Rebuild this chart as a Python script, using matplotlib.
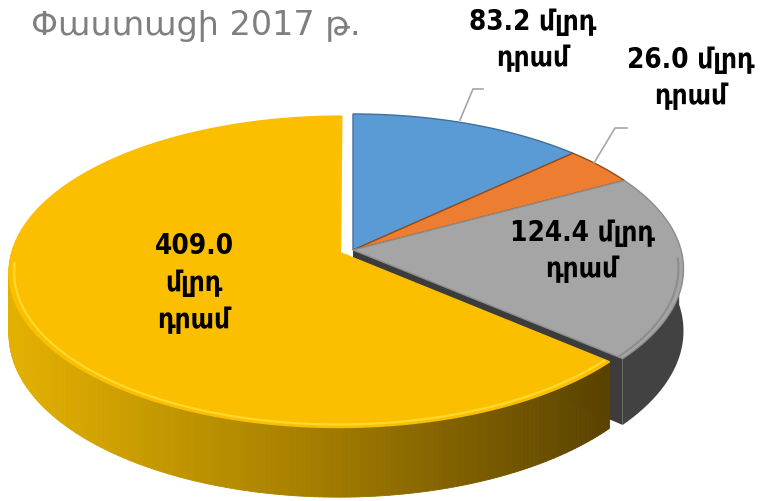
import numpy as np
import matplotlib
matplotlib.use("Agg")
import matplotlib.pyplot as plt
from matplotlib.patches import Polygon
from matplotlib.colors import LinearSegmentedColormap

# data (billion AMD, actual 2017)
values = [83.2, 26.0, 124.4, 409.0]
labels = ["83.2 մլրդ\nդրամ", "26.0 մլրդ\nդրամ", "124.4 մլրդ\nդրամ", "409.0\nմլրդ\nդրամ"]
top_colors = ["#5b9bd5", "#ed7d31", "#a5a5a5", "#fbbf00"]
edge_colors = ["#3f6f9c", "#9c4a14", "#8c8c8c", "#fbbf00"]
side_colors = ["#3a6a96", "#a3541f", "#424242", None]
explode = [0, 0, 0, 0.042]
title = "Փաստացի 2017 թ."

# fake 3d projection
CX, CY = 353, 250
A, B, D, P = 328, 152.7, 61, 0.1225


def proj(X, Y, depth=0.0):
    X = np.asarray(X, float)
    Y = np.asarray(Y, float)
    f = 1.0 / (1.0 + P * Y)
    return CX + A * X * f, CY + (-B * Y + D * depth) * f


fig = plt.figure(figsize=(7.62, 5.01), dpi=100)
ax = fig.add_axes([0, 0, 1, 1])
ax.set_xlim(0, 762)
ax.set_ylim(501, 0)
ax.axis("off")

total = sum(values)
cum = np.concatenate([[0], np.cumsum(values)]) / total
# clockwise from 12 o'clock -> store as ascending (t0, t1) in radians
wedges = []
for i in range(len(values)):
    t1 = 90 - 360 * cum[i]
    t0 = 90 - 360 * cum[i + 1]
    mid = np.radians((t0 + t1) / 2)
    ox, oy = explode[i] * np.cos(mid), explode[i] * np.sin(mid)
    wedges.append((np.radians(t0), np.radians(t1), ox, oy))

yellow_cmap = LinearSegmentedColormap.from_list("ys", ["#e2b000", "#a57e00", "#5a4300"])

# radial cut faces that face the viewer
for i, (t0, t1, ox, oy) in enumerate(wedges):
    for t, sgn in ((t0, -1), (t1, 1)):
        if np.sin(t + sgn * np.pi / 2) < -0.05:
            xs, ys = [], []
            for X, Y, d in ((ox, oy, 0), (ox + np.cos(t), oy + np.sin(t), 0),
                            (ox + np.cos(t), oy + np.sin(t), 1), (ox, oy, 1)):
                x, y = proj(X, Y, d)
                xs.append(x)
                ys.append(y)
            ax.add_patch(Polygon(np.column_stack([xs, ys]), closed=True,
                                 fc="#3c3c3c" if i == 2 else side_colors[i] or "#8a6700",
                                 ec="none"))

# outer side walls (front half only)
for i, (t0, t1, ox, oy) in enumerate(wedges):
    t = np.linspace(t0, t1, 300)
    t = t[np.sin(t) <= 0.04]
    if len(t) < 2:
        continue
    X = ox + np.cos(t)
    Y = oy + np.sin(t)
    xt, yt = proj(X, Y, 0)
    xb, yb = proj(X, Y, 1)
    if side_colors[i] is None:
        for k in range(len(t) - 1):
            c = yellow_cmap(np.clip((xt[k] - 15) / 590, 0, 1))
            quad = [(xt[k], yt[k]), (xt[k + 1], yt[k + 1]),
                    (xb[k + 1], yb[k + 1]), (xb[k], yb[k])]
            ax.add_patch(Polygon(quad, closed=True, fc=c, ec=c, lw=0.6))
    else:
        pts = np.vstack([np.column_stack([xt, yt]), np.column_stack([xb, yb])[::-1]])
        ax.add_patch(Polygon(pts, closed=True, fc=side_colors[i], ec="none"))

# top faces
for i, (t0, t1, ox, oy) in enumerate(wedges):
    t = np.linspace(t0, t1, 300)
    X = np.concatenate([[ox], ox + np.cos(t)])
    Y = np.concatenate([[oy], oy + np.sin(t)])
    x, y = proj(X, Y, 0)
    ax.add_patch(Polygon(np.column_stack([x, y]), closed=True,
                         fc=top_colors[i], ec=edge_colors[i], lw=1.0))
    # bevel highlight along the front rim
    tf = t[np.sin(t) <= -0.05]
    if len(tf) > 1:
        xr, yr = proj(ox + 0.985 * np.cos(tf), oy + 0.985 * np.sin(tf), 0)
        hl = "#ffd92e" if i == 3 else "#8e8e8e"
        ax.plot(xr, yr, color=hl, lw=1.6, solid_capstyle="butt")

# title
ax.text(31, 25, title, fontsize=24, color="#7f7f7f", ha="left", va="center",
        family="DejaVu Sans")

# data labels
lab_style = dict(fontsize=20, fontweight="bold", color="black", ha="center",
                 va="center", family="DejaVu Sans", fontstretch="condensed",
                 linespacing=1.4)
label_pos = [(533, 40), (691, 78), (582, 251), (194, 283)]
for (x, y), s in zip(label_pos, labels):
    ax.text(x, y, s, **lab_style)

# leader lines
ax.plot([460, 473, 483], [120, 89, 89], color="#a6a6a6", lw=1.2)
ax.plot([594, 615, 627], [163, 128, 128], color="#a6a6a6", lw=1.2)

fig.savefig("out.png", dpi=100)
